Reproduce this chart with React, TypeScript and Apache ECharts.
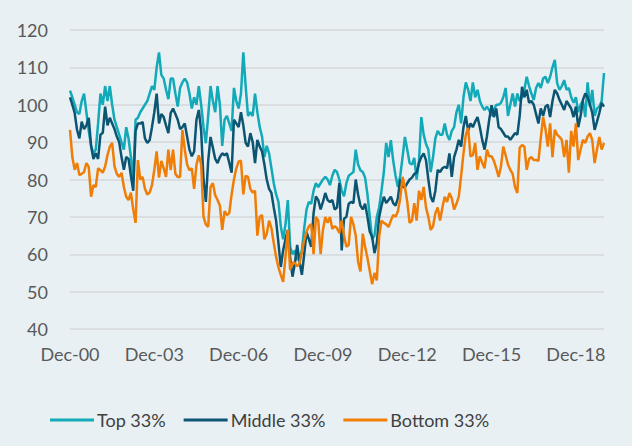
import React, { useEffect, useRef } from "react";
import * as echarts from "echarts";

const MONTHS = ["Jan","Feb","Mar","Apr","May","Jun","Jul","Aug","Sep","Oct","Nov","Dec"];
// Monthly categories, Dec-00 .. Dec-19
const categories: string[] = [];
for (let k = 0; k <= 228; k++) {
  const m = (11 + k) % 12;
  const y = 2000 + Math.floor((11 + k) / 12);
  categories.push(`${MONTHS[m]}-${String(y % 100).padStart(2, "0")}`);
}

const yTicks = [40, 50, 60, 70, 80, 90, 100, 110, 120];

const top33 = [
  103.8,102,100,98,97.5,101,103,98,93,89,87,88,
  95,103,100,105,101,105,100,96,94,92,90,88,
  94,91,86,80,96,96.5,98,99,100,101,103,105,
  104,110,114,108,107,104,101.5,107,107,103,99.5,104.5,
  106,107,106,103,99,102,100,105,100,94,89.7,97,
  105,101,98,105,100,89,96,97,95,93,104.5,101,
  99,103,114,105,97,98,97,103,98,94,91.5,86,
  89,87,83,79,76,74,67.5,64,68,74.5,62,60,
  61,58.5,59,61,67,72,74,73.5,77,79,78,79,
  80,80.7,80,78.5,81,82.6,82,80,77,75.5,79,81,
  81.5,82,88,84,82.5,82,80.5,76,70,64,65,70,
  72.5,77,82,89.8,86,90.5,85,81,78,81,86,91.4,
  88,84.4,84,85.8,80,85,96.7,92,89.5,88,82,86,
  91,93,92,92,95,92,90.6,93,94,98,100,95,
  102,106,104,101,106,102,104,101,99.5,98.6,99.5,98.5,
  97,98.5,100,100,100.5,102,104.5,97,100,103,99.5,103,
  101,102,104,107.5,105,103,101.3,104.5,105.8,104.5,107,107.5,
  105.8,107.5,110,112,105.8,104,105,106.6,104,104.5,102,100.5,
  102,98,100,101,96.7,106,99.5,104,97,99,99.5,101,
  108.5
];

const middle33 = [
  102,100,97.8,93.3,91,95.5,93.5,94.5,96.5,89,85.5,87,
  85.5,92,92.5,99.5,94.5,96.5,95,93.5,91.5,90,86,82.6,
  86,85.5,81,77,93,95,95,95.4,91,89.8,90.5,94,
  98,103,95,97.5,96.7,94.5,92.4,97.8,99,97.5,96,93.5,
  94,95,91.5,88,86.2,87.5,96,98.6,93,80,74,85,
  91.4,88.5,85.5,84.4,86,87,86.5,87,84.5,81.8,96,95,
  94,98,94.5,89.8,88.8,92.4,90,84.4,90.6,88.8,87.5,84,
  80,77.5,76.4,72.5,69,63,56.6,61,64,66.5,59,54,
  57.5,62.5,58,54.5,60,66,64,62,71,75.5,74.5,72,
  74,76.4,74.5,74,74.5,72,72.5,79,61,69.5,70,73.5,
  74,73.7,80,76,73,72,73.5,70,66,64.7,60.3,63,
  70,73,75.4,73.7,74.5,75.4,73.7,73,75,80,78,78,
  79,80,80.5,81.5,81.8,84.4,86,87,85.2,80,75.4,74,
  77,82.6,82,83,83.4,83,87,80.7,86,88,90.6,88.8,
  94,97,93,95,94,95.5,96.7,94,90.6,88,91.5,96,
  99.9,96.7,99,94,93.5,92.5,91.5,91.5,90.6,91.5,92.4,92,
  97,104.8,102,104,100.5,101,100,97.5,95,99,97,99.5,
  100,96.7,101,104,103,101.3,100,98.6,101,100,99,96.7,
  99.5,94,97,101.3,103,102,100,97.8,93.3,95.5,97.8,100.5,
  99.5
];

const bottom33 = [
  93.3,86,82.6,84.4,81.2,81.5,82,84.4,83.4,75.4,78.5,78,
  83,82.5,81.8,83.5,86.5,88.8,89.8,83.5,81.5,80.7,81.8,78,
  75.4,74.5,76.5,72,68.4,85.2,80,80.7,77.5,76,76.5,78.5,
  82.6,87.5,80.5,85,83,80.7,88,82.5,88,81.5,80.7,80.7,
  93.3,88,84,82.5,83,77.5,84,86.5,84,70,68,67.3,
  78,79,75.8,74.5,73,66.5,71.5,70.5,71,76,80,83,
  84.8,85,76,81,80.7,77.5,76.5,77,65,70,70.5,64,
  65.5,69,67,63,59.3,56.5,54.5,52.6,59.3,66.5,55.8,57.7,
  57.7,56.8,57.5,60.5,63.8,66,67.5,68,60,70,69,60,
  66.5,70,68.4,70,66.8,67.5,67,65.7,69,65,62,62.5,
  70,68,65,58,55.4,65.5,62,59,55.5,52,55,53,
  64.7,69,68.4,68,67.3,69,70.5,70,71.5,75,80.7,78,
  74,68.4,69,73.7,69,77,74.5,78,72.5,70,66.5,67.5,
  71,72.5,69,72.5,75.4,74,76.4,75,72,73.5,75.4,81,
  87,92,93.8,86.2,86.5,89.8,82.6,86.2,84.5,83,88,86.2,
  86.2,85,83,80.7,83.5,88.8,86.5,84,82.6,81.5,78,76.4,
  88.5,89.2,88.8,82.6,85.5,86,85.2,85.2,85,91,96.7,93.5,
  88.8,95,86,93.3,92,91.4,90.6,86,90.6,81.8,93,88.8,
  95,85.2,88,90.6,89.8,91.5,92.4,90.5,84.4,88,91.4,88,
  89.8
];

const seriesNames = ["Top 33%", "Middle 33%", "Bottom 33%"];
const seriesColors = ["#12A9B8", "#0B5472", "#F07D06"];
const seriesData = [top33, middle33, bottom33];

export default function App() {
  const ref = useRef<HTMLDivElement>(null);
  useEffect(() => {
    if (!ref.current) return;
    const chart = echarts.init(ref.current, null, { renderer: "svg" });
    const font = "Lato, 'Open Sans', sans-serif";
    chart.setOption({
      animation: false,
      backgroundColor: "#E8F0F3",
      textStyle: { fontFamily: font },
      grid: { left: 70, right: 28, top: 30, bottom: 117, containLabel: false },
      legend: {
        show: true,
        left: 45,
        top: 406,
        icon: "rect",
        itemWidth: 44,
        itemHeight: 3,
        itemGap: 18,
        textStyle: { color: "#404040", fontSize: 18, fontFamily: font, padding: [0, 0, 0, -2] },
        data: seriesNames,
      },
      xAxis: {
        type: "category",
        data: categories,
        boundaryGap: false,
        axisLine: { show: false },
        axisTick: { show: false },
        axisLabel: {
          interval: 35,
          color: "#595959",
          fontSize: 18,
          margin: 16,
          fontFamily: font,
        },
        splitLine: { show: false },
      },
      yAxis: {
        type: "value",
        min: yTicks[0],
        max: yTicks[yTicks.length - 1],
        interval: 10,
        axisLine: { show: false },
        axisTick: { show: false },
        axisLabel: { color: "#595959", fontSize: 18, margin: 22, fontFamily: font },
        splitLine: { show: true, lineStyle: { color: "#D6D9DB", width: 1.5 } },
      },
      series: seriesNames.map((name, idx) => ({
        name,
        type: "line",
        data: seriesData[idx],
        symbol: "none",
        showSymbol: false,
        lineStyle: { color: seriesColors[idx], width: 2.5 },
        itemStyle: { color: seriesColors[idx] },
      })),
    });
    return () => chart.dispose();
  }, []);
  return <div ref={ref} style={{ width: 632, height: 446, position: "absolute", left: 0, top: 0 }} />;
}
